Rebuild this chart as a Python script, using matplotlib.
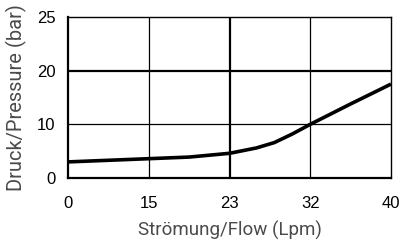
import numpy as np
import matplotlib
matplotlib.use("Agg")
import matplotlib.pyplot as plt

# tick values (axes are spaced evenly between ticks)
flow_ticks = [0, 15, 23, 32, 40]
pressure_ticks = [0, 10, 20, 25]

# curve
flow = [0, 5, 10, 15, 19, 23, 26, 28, 30, 32, 36, 40]
pressure = [3.0, 3.2, 3.4, 3.6, 3.9, 4.6, 5.6, 6.6, 8.2, 10.0, 13.8, 17.5]

def make_scale(ticks):
    pos = np.arange(len(ticks), dtype=float)
    fwd = lambda v: np.interp(v, ticks, pos, left=-1, right=len(ticks))
    inv = lambda p: np.interp(p, pos, ticks)
    return fwd, inv

fig = plt.figure(figsize=(4.01, 2.48), dpi=100)
ax = fig.add_axes([68/401, 1-178/248, (391-68)/401, (178-17)/248])

ax.set_xscale('function', functions=make_scale(flow_ticks))
ax.set_yscale('function', functions=make_scale(pressure_ticks))
ax.set_xlim(0, 40)
ax.set_ylim(0, 25)

# grid lines, the middle ones are heavier
for v in flow_ticks[1:-1]:
    ax.axvline(v, color='black', lw=1.6 if v == 23 else 0.9, zorder=1)
for v in pressure_ticks[1:-1]:
    ax.axhline(v, color='black', lw=1.6 if v == 20 else 0.9, zorder=1)

ax.plot(flow, pressure, color='black', lw=2.6, solid_capstyle='butt', zorder=3)

tick_font = dict(family=['Liberation Sans', 'DejaVu Sans'], size=12)
ax.set_xticks(flow_ticks)
ax.set_xticklabels([str(t) for t in flow_ticks], fontdict=tick_font)
ax.set_yticks(pressure_ticks)
ax.set_yticklabels([str(t) for t in pressure_ticks], fontdict=tick_font)
ax.tick_params(length=0, colors='black')
ax.tick_params(axis='x', pad=13)
ax.tick_params(axis='y', pad=9)
ax.minorticks_off()

ax.spines['left'].set_linewidth(1.6)
ax.spines['bottom'].set_linewidth(1.6)
ax.spines['top'].set_linewidth(1.0)
ax.spines['right'].set_linewidth(1.0)

label_font = dict(family=['Roboto', 'DejaVu Sans'], weight='normal', color='#4a4a4a')
ax.set_xlabel('Strömung/Flow (Lpm)', fontsize=13.5, labelpad=7, **label_font)
ax.set_ylabel('Druck/Pressure (bar)', fontsize=14.5, labelpad=7, **label_font)

fig.savefig('out.png', dpi=100)
